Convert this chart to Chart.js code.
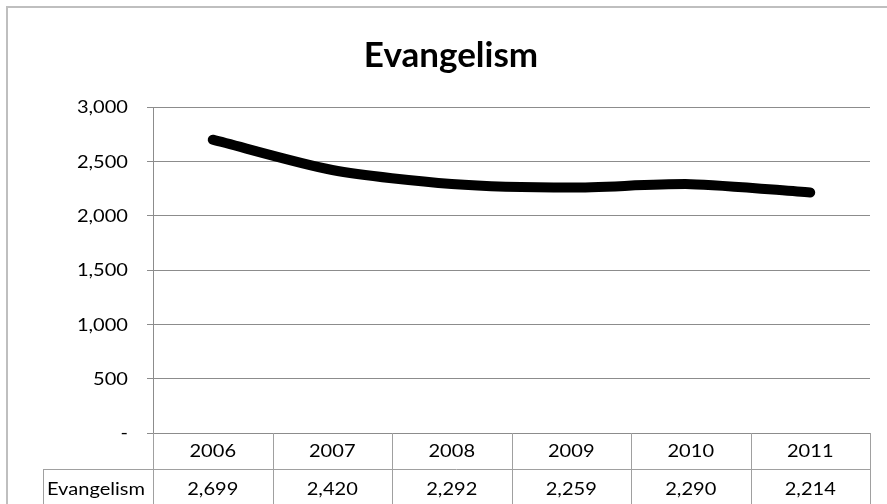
<!DOCTYPE html>
<html>
<head>
<meta charset="utf-8">
<script src="https://cdn.jsdelivr.net/npm/chart.js@4"></script>
<style>
  html, body { margin: 0; padding: 0; background: #ffffff; }
  #chart { display: block; }
</style>
</head>
<body>
<canvas id="chart" width="887" height="504"></canvas>
<script>
// data
const chartTitle = "Evangelism";
const years = ["2006", "2007", "2008", "2009", "2010", "2011"];
const evangelism = [2699, 2420, 2292, 2259, 2290, 2214];
const yMin = 0;
const yMax = 3000;
const yStep = 500;

const GRID = "#8c8c8c";
const TABLE = "#a0a0a0";
const FONT = "Lato, 'Open Sans', sans-serif";
const STRETCH = 1.18; // the source text looks a bit wide

function fmt(v) {
  return v === 0 ? "-" : v.toLocaleString("en-US");
}

// draw text with a small horizontal stretch
function wideText(ctx, text, x, y, align, sx) {
  ctx.save();
  ctx.translate(x, y);
  ctx.scale(sx, 1);
  ctx.textAlign = align;
  ctx.fillText(text, 0, 0);
  ctx.restore();
}

const tablePlugin = {
  id: "dataTable",
  beforeDraw(chart) {
    const ctx = chart.ctx;
    ctx.save();
    ctx.fillStyle = "#ffffff";
    ctx.fillRect(0, 0, chart.width, chart.height);
    // outer chart border (right/bottom are off the picture)
    ctx.strokeStyle = "#bfbfbf";
    ctx.lineWidth = 2;
    ctx.beginPath();
    ctx.moveTo(7, chart.height);
    ctx.lineTo(7, 7);
    ctx.lineTo(chart.width, 7);
    ctx.stroke();
    // title
    ctx.fillStyle = "#000000";
    ctx.font = "bold 34px " + FONT;
    ctx.textBaseline = "middle";
    wideText(ctx, chartTitle, 451, 56, "center", 1.03);
    ctx.restore();
  },
  afterDraw(chart) {
    const ctx = chart.ctx;
    const x = chart.scales.x;
    const y = chart.scales.y;
    const area = chart.chartArea;
    const top = area.bottom;
    const rowH = 36;
    const mid = top + rowH;
    const bottom = chart.height + 2;
    const headLeft = 43;
    const half = (x.getPixelForValue(1) - x.getPixelForValue(0)) / 2;

    ctx.save();
    // y tick labels
    ctx.fillStyle = "#000000";
    ctx.font = "17px " + FONT;
    ctx.textBaseline = "middle";
    y.ticks.forEach(t => {
      wideText(ctx, fmt(t.value), 128, y.getPixelForValue(t.value) + 1, "right", STRETCH);
    });

    // table lines
    ctx.strokeStyle = TABLE;
    ctx.lineWidth = 1;
    ctx.beginPath();
    ctx.moveTo(headLeft, mid + 0.5);
    ctx.lineTo(area.right, mid + 0.5);
    ctx.moveTo(headLeft + 0.5, mid);
    ctx.lineTo(headLeft + 0.5, bottom);
    ctx.moveTo(Math.round(area.left) + 0.5, top);
    ctx.lineTo(Math.round(area.left) + 0.5, bottom);
    years.forEach((yr, i) => {
      const bx = Math.round(x.getPixelForValue(i) + half) + 0.5;
      ctx.moveTo(bx, top);
      ctx.lineTo(bx, bottom);
    });
    ctx.stroke();

    // table text
    ctx.fillStyle = "#000000";
    ctx.font = "17px " + FONT;
    ctx.textBaseline = "middle";
    years.forEach((yr, i) => {
      const cx = x.getPixelForValue(i);
      wideText(ctx, yr, cx, top + rowH / 2 + 1, "center", STRETCH);
      wideText(ctx, fmt(evangelism[i]), cx, mid + 21, "center", STRETCH);
    });
    wideText(ctx, chartTitle, headLeft + 4, mid + 21, "left", STRETCH);
    ctx.restore();
  }
};

new Chart(document.getElementById("chart").getContext("2d"), {
  type: "line",
  data: {
    labels: years,
    datasets: [{
      label: chartTitle,
      data: evangelism,
      borderColor: "#000000",
      backgroundColor: "#000000",
      borderWidth: 10,
      borderCapStyle: "round",
      borderJoinStyle: "round",
      tension: 0.25,
      pointRadius: 0,
      fill: false
    }]
  },
  options: {
    responsive: false,
    animation: false,
    devicePixelRatio: 1,
    layout: {
      padding: { top: 107, right: 17, bottom: 71, left: 0 }
    },
    plugins: {
      legend: { display: false },
      title: { display: false },
      tooltip: { enabled: false }
    },
    scales: {
      x: {
        type: "category",
        offset: true,
        display: false
      },
      y: {
        min: yMin,
        max: yMax,
        afterFit(scale) { scale.width = 153; },
        ticks: {
          stepSize: yStep,
          display: false
        },
        grid: {
          color: GRID,
          lineWidth: 1,
          drawTicks: true,
          tickLength: 6,
          tickColor: GRID
        },
        border: { display: true, color: GRID, width: 1 }
      }
    }
  },
  plugins: [tablePlugin]
});
</script>
</body>
</html>
